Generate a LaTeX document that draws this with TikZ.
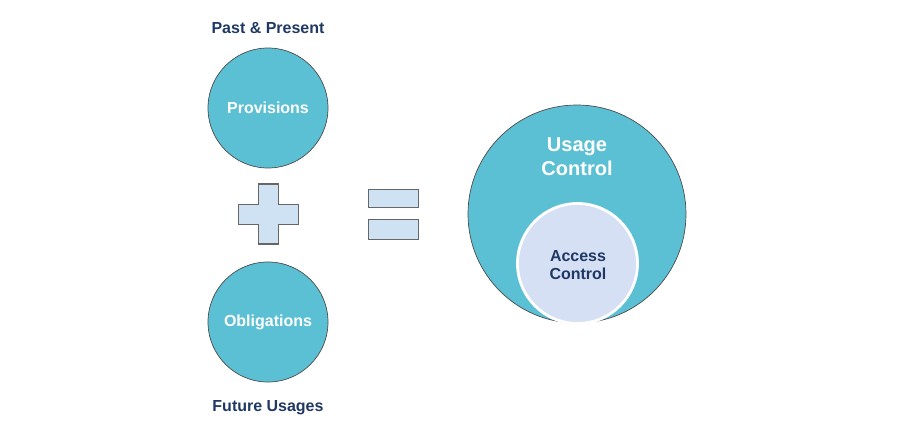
\documentclass[tikz,border=0pt]{standalone}
\usepackage{fontspec}
\setmainfont{Liberation Sans}
\definecolor{teal}{RGB}{91,192,211}
\definecolor{signblue}{RGB}{207,226,243}
\definecolor{accessblue}{RGB}{214,224,244}
\definecolor{darkblue}{RGB}{31,56,100}
\begin{document}
\begin{tikzpicture}[x=0.02cm, y=-0.02cm,
    every node/.style = {align=center, font=\bfseries},
    ball/.style = {shape=circle, draw=black!70, line width=0.4pt, fill=teal, text=white, inner sep=0pt},
    caption/.style = {text=darkblue, font=\bfseries\fontsize{9.1}{11}\selectfont},
    sign/.style = {draw=black!60, line width=0.6pt, fill=signblue}]
    \useasboundingbox (0,0) rectangle (900,426);

    \node (past) at (268, 28) [caption] {Past \& Present};
    \node (prov) at (268, 108) [ball, minimum size=120*0.02cm, font=\bfseries\fontsize{9.1}{11}\selectfont] {Provisions};
    \node (obl) at (268, 322) [ball, minimum size=120*0.02cm, font=\bfseries\fontsize{9.1}{11}\selectfont] {Obligations};
    \node (future) at (268, 408) [caption] {Future Usages};

    \draw[sign] (258.3,184) -- (278.3,184) -- (278.3,204.3) -- (298.3,204.3) -- (298.3,224.3)
        -- (278.3,224.3) -- (278.3,244) -- (258.3,244) -- (258.3,224.3) -- (238.3,224.3)
        -- (238.3,204.3) -- (258.3,204.3) -- cycle;

    \node (eqtop) at (393.3, 198.3) [sign, shape=rectangle, minimum width=50*0.02cm, minimum height=18*0.02cm, inner sep=0pt] {};
    \node (eqbot) at (393.3, 229.3) [sign, shape=rectangle, minimum width=50*0.02cm, minimum height=20*0.02cm, inner sep=0pt] {};

    \node (usage) at (577, 214) [ball, minimum size=218*0.02cm] {};
    \node (usagetext) at (577, 157) [text=white, font=\bfseries\fontsize{11.4}{13.6}\selectfont] {Usage\\Control};
    \node (access) at (577.5, 263.5) [ball, draw=white, line width=1.6pt, fill=accessblue, minimum size=120*0.02cm] {};
    \node (accesstext) at (578, 265) [text=darkblue, font=\bfseries\fontsize{9.1}{10.3}\selectfont] {Access\\Control};
  \end{tikzpicture}
\end{document}
